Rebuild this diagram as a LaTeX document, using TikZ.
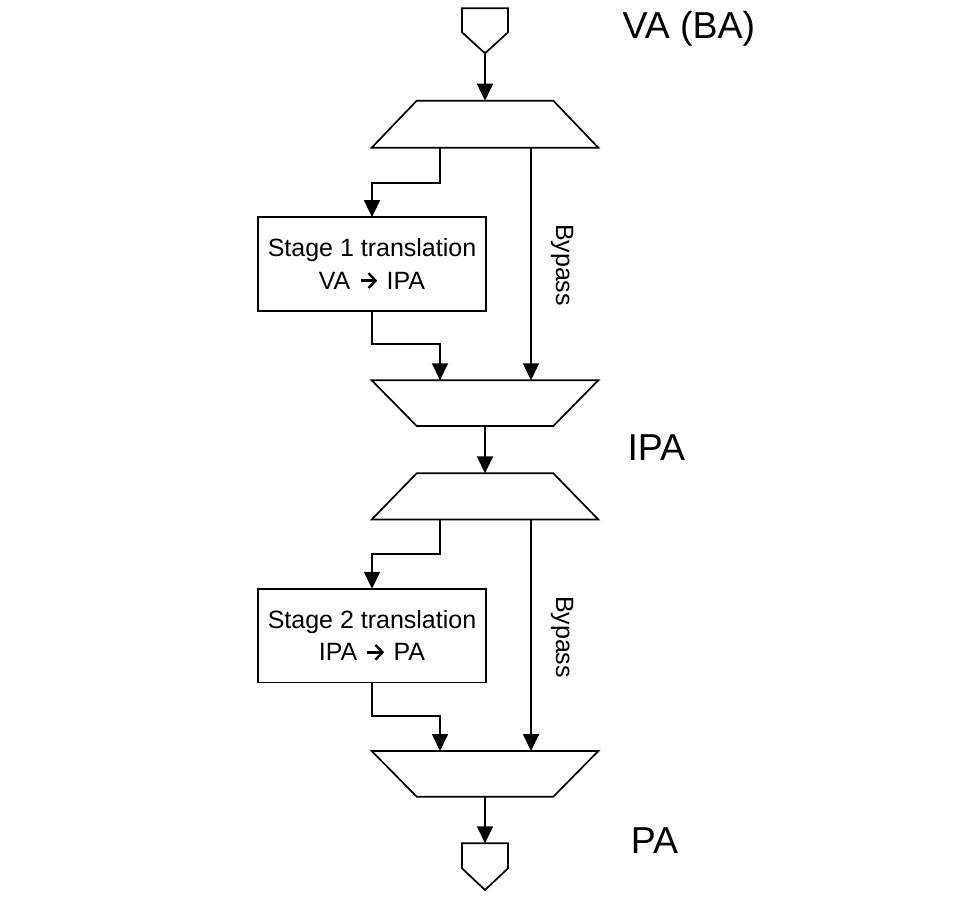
\documentclass[tikz,border=0pt]{standalone}
\usepackage{fontspec}
\setmainfont{Liberation Sans}
\usetikzlibrary{arrows.meta}
\newcommand{\thickarrow}{\hspace{2pt}\tikz[baseline=0pt,line width=2.4pt,line join=miter,line cap=butt]{%
  \draw (0pt,8.6pt) -- (15pt,8.6pt);
  \draw (8pt,16pt) -- (15pt,8.6pt) -- (8pt,1.2pt);}\hspace{3pt}}
\begin{document}
\begin{tikzpicture}[x=1pt,y=-1pt,line width=1.7pt,line join=miter,
  arr/.style={-{Triangle[length=17pt,width=16pt]}},
  shp/.style={draw,fill=white},
  xlbox/.style={draw,minimum width=227.4pt,minimum height=93.4pt,inner sep=0pt,align=center,
    font=\fontsize{25}{32.3}\selectfont},
  bylabel/.style={rotate=-90,inner sep=0pt,font=\fontsize{25}{30}\selectfont},
  biglabel/.style={inner sep=0pt,font=\fontsize{37.5}{45}\selectfont}]
\useasboundingbox (0,0) rectangle (979,910);
% input pentagon
\draw[shp] (462,8.3) -- (508,8.3) -- (508,32.3) -- (485,53.3) -- (462,32.3) -- cycle;
\coordinate (vain) at (485,53.3);
% trapezoid 1 (demux)
\draw[shp] (416.7,100.7) -- (553.3,100.7) -- (598.3,147.7) -- (371.7,147.7) -- cycle;
\coordinate (t1in) at (485,100.7);
\coordinate (t1L) at (440,147.7);
\coordinate (t1R) at (531,147.7);
\coordinate (t1Lk) at (440,183);
% box 1
\node[xlbox] (box1) at (372,264) {Stage 1 translation\\VA \thickarrow\ IPA};
\coordinate (b1k) at (372,344.3);
% trapezoid 2 (mux)
\draw[shp] (371.7,380.3) -- (598.3,380.3) -- (553.3,426) -- (416.7,426) -- cycle;
\coordinate (t2inL) at (440,380.3);
\coordinate (t2inR) at (531,380.3);
\coordinate (t2out) at (485,426);
% trapezoid 3 (demux)
\draw[shp] (416.7,473.3) -- (553.3,473.3) -- (598.3,519.5) -- (371.7,519.5) -- cycle;
\coordinate (t3in) at (485,473.3);
\coordinate (t3L) at (440,519.5);
\coordinate (t3R) at (531,519.5);
\coordinate (t3Lk) at (440,554.3);
% box 2
\node[xlbox] (box2) at (372,635.7) {Stage 2 translation\\IPA \thickarrow\ PA};
\coordinate (b2k) at (372,715.7);
% trapezoid 4 (mux)
\draw[shp] (371.7,751) -- (598.3,751) -- (553.3,796.7) -- (416.7,796.7) -- cycle;
\coordinate (t4inL) at (440,751);
\coordinate (t4inR) at (531,751);
\coordinate (t4out) at (485,796.7);
% output pentagon
\draw[shp] (462,843.3) -- (508,843.3) -- (508,868.3) -- (485,890) -- (462,868.3) -- cycle;
\coordinate (paout) at (485,843.3);
% connectors
\draw[arr] (vain) -- (t1in);
\draw[arr] (t1L) -- (t1Lk) -| (box1.north);
\draw[arr] (t1R) -- (t2inR);
\draw[arr] (box1.south) -- (b1k) -| (t2inL);
\draw[arr] (t2out) -- (t3in);
\draw[arr] (t3L) -- (t3Lk) -| (box2.north);
\draw[arr] (t3R) -- (t4inR);
\draw[arr] (box2.south) -- (b2k) -| (t4inL);
\draw[arr] (t4out) -- (paout);
% labels
\node[bylabel] (by1) at (562,265) {Bypass};
\node[bylabel] (by2) at (562,637) {Bypass};
\node[biglabel,anchor=base west] (lva) at (621.7,38.3) {VA (BA)};
\node[biglabel,anchor=base west] (lipa) at (626.7,460) {IPA};
\node[biglabel,anchor=base west] (lpa) at (630,853.3) {PA};
\end{tikzpicture}
\end{document}
